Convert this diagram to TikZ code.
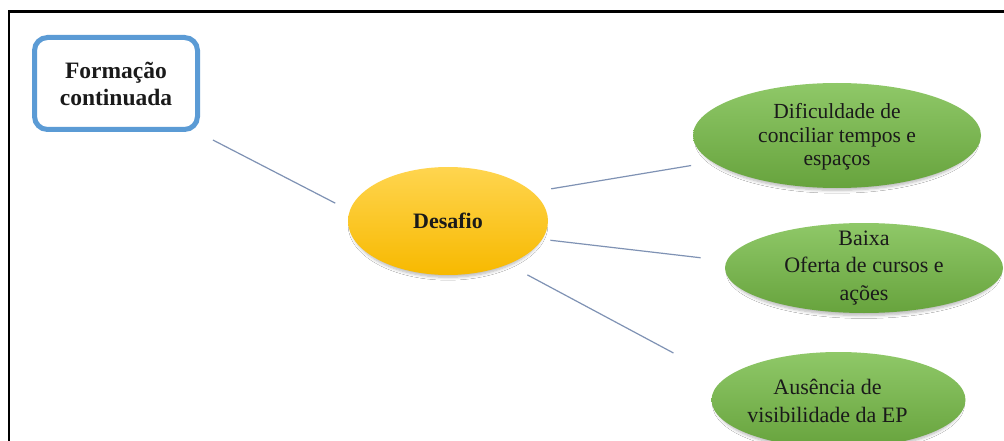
\documentclass[tikz,border=0pt]{standalone}
\usepackage{fontspec}
\setmainfont{Liberation Serif}
\usetikzlibrary{shapes.geometric,shadows.blur}
\definecolor{boxblue}{HTML}{5B9BD5}
\definecolor{linkgray}{HTML}{7F92B4}
\definecolor{goldtop}{HTML}{FFD54F}
\definecolor{goldbot}{HTML}{F7B900}
\definecolor{greentop}{HTML}{8FC868}
\definecolor{greenbot}{HTML}{67A33D}
\definecolor{inktext}{HTML}{1A1A1A}
\begin{document}
\begin{tikzpicture}[x=1pt,y=-1pt,
  softshadow/.style={blur shadow={shadow xshift=0pt, shadow yshift=-4pt,
    shadow scale=0.97, shadow blur radius=3pt, shadow blur steps=6, shadow opacity=28}},
  topicbox/.style={draw=boxblue, line width=5pt, rounded corners=13pt,
    minimum width=163pt, minimum height=92pt, inner sep=0pt, outer sep=0pt,
    align=center, text=inktext, font=\bfseries\fontsize{23.5}{27}\selectfont},
  hub/.style={ellipse, minimum width=200pt, minimum height=108pt,
    inner sep=0pt, outer sep=0pt, top color=goldtop, bottom color=goldbot,
    softshadow, text=inktext, font=\bfseries\fontsize{22}{26}\selectfont},
  leaf/.style={ellipse, inner sep=0pt, outer sep=0pt,
    top color=greentop, bottom color=greenbot, softshadow},
  leaftext/.style={align=center, inner sep=0pt, text=inktext},
  conn/.style={draw=linkgray, line width=1.2pt}
]
\useasboundingbox (0,0) rectangle (1004,441);
\clip (0,0) rectangle (1004,441);
\fill[white] (0,0) rectangle (1004,441);

% outer frame (left and top edges)
\draw[line width=2.2pt] (9,470) -- (9,11.5) -- (1030,11.5);

% main topic
\node[topicbox] (fc) at (116,83.5) {Formação\\continuada};

% central challenge
\node[hub] (des) at (448,221) {Desafio};

% challenge items
\node[leaf, minimum width=288pt, minimum height=105pt] (e1) at (837,135.5) {};
\node[leaftext, font=\fontsize{21.5}{23.3}\selectfont, yshift=-1.5pt] (t1) at (e1.center)
  {Dificuldade de\\conciliar tempos e\\espaços};

\node[leaf, minimum width=278pt, minimum height=90pt] (e2) at (864,268) {};
\node[leaftext, font=\fontsize{22}{27.5}\selectfont] (t2) at (e2.center)
  {Baixa\\Oferta de cursos e\\ações};

\node[leaf, minimum width=254pt, minimum height=96pt] (e3) at (838.5,400) {};
\node[leaftext, font=\fontsize{22}{27.5}\selectfont, xshift=-11pt, yshift=-1pt] (t3) at (e3.center)
  {Ausência de\\visibilidade da EP};

% connectors
\draw[conn, shorten <=22.9pt, shorten >=16.4pt] (fc.-31.3) -- (des.174.5);
\draw[conn, shorten <=19.2pt, shorten >=21.8pt] (des.19.9) -- (e1.192.4);
\draw[conn, shorten <=8.4pt, shorten >=26.4pt] (des.-11.5) -- (e2.177.5);
\draw[conn, shorten <=22.4pt, shorten >=56.7pt] (des.-36.2) -- (e3.170.2);
\end{tikzpicture}
\end{document}
